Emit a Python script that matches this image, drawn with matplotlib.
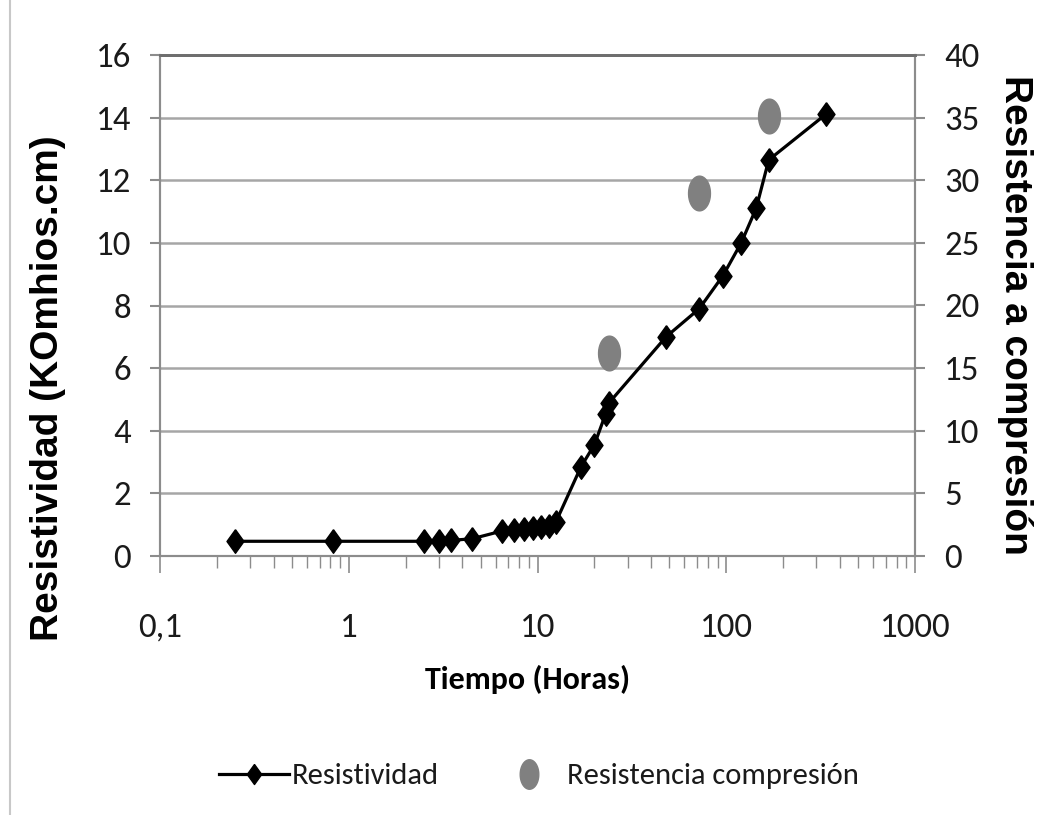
import numpy as np
import matplotlib
matplotlib.use("Agg")
import matplotlib.pyplot as plt
from matplotlib.lines import Line2D
from matplotlib.ticker import FixedLocator, LogLocator, NullFormatter

# ---- data ----
hours_res = [0.25, 0.83, 2.5, 3.0, 3.5, 4.5, 6.5, 7.5, 8.5, 9.5, 10.5, 11.5, 12.5,
             17, 20, 23, 24, 48, 72, 96, 120, 144, 168, 336]
resistividad = [0.47, 0.47, 0.47, 0.47, 0.5, 0.55, 0.8, 0.82, 0.85, 0.88, 0.92, 0.97, 1.08,
                2.85, 3.55, 4.55, 4.9, 7.0, 7.9, 8.95, 10.0, 11.1, 12.65, 14.1]
hours_comp = [24, 72, 168]
compresion = [16.2, 29.0, 35.1]

x_ticks = [0.1, 1, 10, 100, 1000]
x_ticklabels = ["0,1", "1", "10", "100", "1000"]
left_ticks = [0, 2, 4, 6, 8, 10, 12, 14, 16]
right_ticks = [0, 5, 10, 15, 20, 25, 30, 35, 40]

FONT = ['Carlito', 'IBM Plex Sans Condensed', 'DejaVu Sans']
BOLDFONT = ['Liberation Sans', 'Arimo', 'DejaVu Sans']
plt.rcParams['font.family'] = FONT

W, H = 1060, 815
fig = plt.figure(figsize=(W / 100, H / 100), dpi=100)
ax = fig.add_axes([160 / W, 1 - 556 / H, (915 - 160) / W, (556 - 55) / H])
ax2 = ax.twinx()

diamond = [(0, 1), (0.72, 0), (0, -1), (-0.72, 0), (0, 1)]
th = np.linspace(0, 2 * np.pi, 64)
ellipse = list(zip(0.63 * np.cos(th), np.sin(th)))

grid_c = '#a6a6a6'
spine_c = '#8c8c8c'
txt_c = '#1a1a1a'

ax.set_xscale('log')
ax.set_xlim(0.1, 1000)
ax.set_ylim(0, 16)
ax2.set_ylim(0, 40)

ln, = ax.plot(hours_res, resistividad, color='black', lw=2.3, marker=diamond,
              markersize=17, markerfacecolor='black', markeredgecolor='black',
              zorder=3, clip_on=False)
sc, = ax2.plot(hours_comp, compresion, linestyle='none', marker=ellipse,
               markersize=25, color='#808080', zorder=4, clip_on=False)

ax.set_yticks(left_ticks)
ax.yaxis.grid(True, color=grid_c, lw=1.8)
ax.set_axisbelow(True)
ax2.set_yticks(right_ticks)

ax.xaxis.set_major_locator(FixedLocator(x_ticks))
ax.set_xticklabels(x_ticklabels)
ax.xaxis.set_minor_locator(LogLocator(base=10, subs=np.arange(2, 10)))
ax.xaxis.set_minor_formatter(NullFormatter())

ax.tick_params(axis='x', which='major', direction='out', length=12, width=1.2,
               color=spine_c, labelsize=25, pad=29, labelcolor=txt_c)
ax.tick_params(axis='x', which='minor', direction='out', length=8.5, width=1.0,
               color=spine_c)
ax.tick_params(axis='y', direction='out', length=7, width=1.5, color=spine_c,
               labelsize=25, pad=14, labelcolor=txt_c)
ax2.tick_params(axis='y', direction='out', length=7, width=1.5, color=spine_c,
                labelsize=25, pad=14, labelcolor=txt_c)

for a in (ax, ax2):
    for s in ('left', 'right', 'bottom'):
        a.spines[s].set_color(spine_c)
        a.spines[s].set_linewidth(1.5)
    a.spines['top'].set_color('#6e6e6e')
    a.spines['top'].set_linewidth(2)

fig.text(48 / W, 1 - 388 / H, "Resistividad (KOmhios.cm)", rotation=90,
         ha='center', va='center', fontsize=28, fontweight='bold',
         family=BOLDFONT)
fig.text(1015 / W, 1 - 315 / H, "Resistencia a compresión", rotation=270,
         ha='center', va='center', fontsize=28, fontweight='bold',
         family=BOLDFONT)
fig.text(528 / W, 1 - 679 / H, "Tiempo (Horas)", ha='center', va='center',
         fontsize=23, fontweight='bold', color='black')

fig.legend([ln, sc], ["Resistividad", "Resistencia compresión"],
           loc='center', bbox_to_anchor=(539 / W, 1 - 776 / H), ncol=2,
           frameon=False, fontsize=22, handlelength=2.3, handletextpad=0.1,
           columnspacing=1.8, markerscale=0.85, labelcolor=txt_c)

fig.add_artist(Line2D([10 / W, 10 / W], [0, 1], color='#c8c8c8', lw=1.5,
                      transform=fig.transFigure))

fig.savefig('out.png', dpi=100)
